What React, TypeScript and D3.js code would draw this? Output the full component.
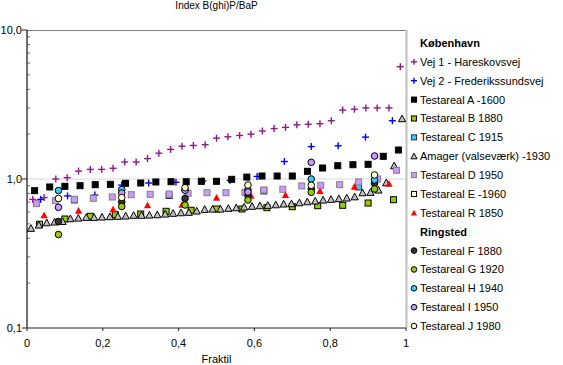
import React from "react";
import * as d3 from "d3";

// ---------- data ----------
const vej1X = [0.015, 0.045, 0.076, 0.106, 0.136, 0.167, 0.197, 0.227, 0.258, 0.288, 0.318, 0.348, 0.379, 0.409, 0.439, 0.470, 0.500, 0.530, 0.561, 0.591, 0.621, 0.652, 0.682, 0.712, 0.742, 0.773, 0.803, 0.833, 0.864, 0.894, 0.924, 0.955, 0.985];
const vej1Y = [0.73, 0.75, 1.0, 1.02, 1.13, 1.16, 1.16, 1.18, 1.3, 1.3, 1.37, 1.49, 1.58, 1.66, 1.68, 1.7, 1.88, 1.92, 1.96, 2.0, 2.1, 2.18, 2.22, 2.31, 2.33, 2.35, 2.46, 2.9, 2.94, 3.0, 3.0, 3.0, 5.67];

const vej2X = [0.036, 0.107, 0.179, 0.250, 0.321, 0.393, 0.464, 0.536, 0.607, 0.679, 0.750, 0.821, 0.893, 0.964];
const vej2Y = [0.73, 0.77, 0.78, 0.91, 0.94, 0.95, 0.97, 0.98, 1.04, 1.31, 1.65, 1.67, 1.91, 2.46];

const aX = [0.02, 0.06, 0.10, 0.14, 0.18, 0.22, 0.26, 0.30, 0.34, 0.38, 0.42, 0.46, 0.50, 0.54, 0.58, 0.62, 0.66, 0.70, 0.74, 0.78, 0.82, 0.86, 0.90, 0.94, 0.98];
const aY = [0.835, 0.884, 0.893, 0.902, 0.916, 0.921, 0.936, 0.94, 0.955, 0.959, 0.959, 0.965, 0.965, 0.995, 1.03, 1.047, 1.047, 1.047, 1.126, 1.185, 1.228, 1.247, 1.255, 1.42, 1.565];

const bX = [0.033, 0.100, 0.167, 0.233, 0.300, 0.367, 0.433, 0.500, 0.567, 0.633, 0.700, 0.767, 0.833, 0.900, 0.967];
const bY = [0.497, 0.539, 0.562, 0.576, 0.582, 0.607, 0.617, 0.629, 0.629, 0.642, 0.652, 0.662, 0.666, 0.69, 0.726];

const cX = [0.125, 0.375, 0.625, 0.875];
const cY = [0.723, 0.775, 0.831, 0.884];

const amagerX = [0.0104, 0.0313, 0.0521, 0.0729, 0.0938, 0.1146, 0.1354, 0.1563, 0.1771, 0.1979, 0.2188, 0.2396, 0.2604, 0.2813, 0.3021, 0.3229, 0.3438, 0.3646, 0.3854, 0.4063, 0.4271, 0.4479, 0.4688, 0.4896, 0.5104, 0.5313, 0.5521, 0.5729, 0.5938, 0.6146, 0.6354, 0.6563, 0.6771, 0.6979, 0.7188, 0.7396, 0.7604, 0.7813, 0.8021, 0.8229, 0.8438, 0.8646, 0.8854, 0.9063, 0.9271, 0.9479, 0.9688, 0.9896];
const amagerY = [0.467, 0.491, 0.509, 0.515, 0.519, 0.542, 0.547, 0.553, 0.553, 0.556, 0.559, 0.562, 0.565, 0.571, 0.571, 0.573, 0.576, 0.582, 0.589, 0.594, 0.598, 0.61, 0.626, 0.629, 0.629, 0.636, 0.642, 0.649, 0.656, 0.662, 0.666, 0.672, 0.68, 0.683, 0.693, 0.704, 0.712, 0.723, 0.731, 0.738, 0.746, 0.76, 0.809, 0.814, 0.844, 0.944, 1.228, 2.54];

const dX = [0.025, 0.075, 0.125, 0.175, 0.225, 0.275, 0.325, 0.375, 0.425, 0.475, 0.525, 0.575, 0.625, 0.675, 0.725, 0.775, 0.825, 0.875, 0.925, 0.975];
const dY = [0.683, 0.715, 0.731, 0.742, 0.757, 0.785, 0.789, 0.793, 0.802, 0.809, 0.809, 0.814, 0.844, 0.853, 0.898, 0.907, 0.916, 0.955, 1.0, 1.144];

const eX: number[] = [];
const eY: number[] = [];

const rX = [0.045, 0.136, 0.227, 0.318, 0.409, 0.500, 0.591, 0.682, 0.773, 0.864, 0.955];
const rY = [0.571, 0.613, 0.626, 0.666, 0.672, 0.749, 0.773, 0.781, 0.831, 0.888, 0.93];

const ringX = [0.083, 0.250, 0.417, 0.583, 0.750, 0.917];
const fY = [0.519, 0.701, 0.74, 0.775, 0.857, 0.936];
const gY = [0.424, 0.654, 0.669, 0.723, 0.814, 0.857];
const hY = [0.837, 0.85, 0.85, 0.844, 1.0, 0.985];
const iY = [0.646, 0.805, 0.84, 0.818, 1.294, 1.427];
const jY = [0.74, 0.751, 0.874, 0.911, 0.907, 1.064];

const xTicks = [0, 0.2, 0.4, 0.6, 0.8, 1];
const xTickLabels = ["0", "0,2", "0,4", "0,6", "0,8", "1"];
const yTicks = [0.1, 1, 10];
const yTickLabels = ["0,1", "1,0", "10,0"];

type Shape = "plus" | "square" | "triangle" | "circle";
interface Series { name: string; xs: number[]; ys: number[]; shape: Shape; fill: string; stroke: string; }

const series: Series[] = [
  { name: "Vej 1 - Hareskovsvej", xs: vej1X, ys: vej1Y, shape: "plus", fill: "none", stroke: "#8B1A8B" },
  { name: "Vej 2 - Frederikssundsvej", xs: vej2X, ys: vej2Y, shape: "plus", fill: "none", stroke: "#0000FF" },
  { name: "Testareal A -1600", xs: aX, ys: aY, shape: "square", fill: "#000000", stroke: "#000000" },
  { name: "Testareal B 1880", xs: bX, ys: bY, shape: "square", fill: "#99CC00", stroke: "#000000" },
  { name: "Testareal C 1915", xs: cX, ys: cY, shape: "square", fill: "#33CCFF", stroke: "#333333" },
  { name: "Amager (valseværk) -1930", xs: amagerX, ys: amagerY, shape: "triangle", fill: "#C0C0C0", stroke: "#000000" },
  { name: "Testareal D 1950", xs: dX, ys: dY, shape: "square", fill: "#CC99FF", stroke: "#808080" },
  { name: "Testareal E -1960", xs: eX, ys: eY, shape: "square", fill: "#FFFFCC", stroke: "#000000" },
  { name: "Testareal R 1850", xs: rX, ys: rY, shape: "triangle", fill: "#FF0000", stroke: "none" },
  { name: "Testareal F 1880", xs: ringX, ys: fY, shape: "circle", fill: "#333333", stroke: "#000000" },
  { name: "Testareal G 1920", xs: ringX, ys: gY, shape: "circle", fill: "#99CC00", stroke: "#000000" },
  { name: "Testareal H 1940", xs: ringX, ys: hY, shape: "circle", fill: "#33CCFF", stroke: "#000000" },
  { name: "Testareal I 1950", xs: ringX, ys: iY, shape: "circle", fill: "#CC99FF", stroke: "#000000" },
  { name: "Testareal J 1980", xs: ringX, ys: jY, shape: "circle", fill: "#FFFFCC", stroke: "#000000" },
];

const FONT = "'Liberation Sans', Arial, sans-serif";

function Marker({ shape, cx, cy, fill, stroke, s = 1 }: { shape: Shape; cx: number; cy: number; fill: string; stroke: string; s?: number }) {
  if (shape === "plus") {
    const h = 3.5 * s;
    return (
      <g stroke={stroke} strokeWidth={1.4}>
        <line x1={cx - h} x2={cx + h} y1={cy} y2={cy} />
        <line x1={cx} x2={cx} y1={cy - h} y2={cy + h} />
      </g>
    );
  }
  if (shape === "square") {
    const h = 3 * s;
    return <rect x={cx - h} y={cy - h} width={2 * h} height={2 * h} fill={fill} stroke={stroke} strokeWidth={1} />;
  }
  if (shape === "triangle") {
    const h = 3.6 * s;
    const p = `${cx},${cy - h} ${cx + h},${cy + h * 0.85} ${cx - h},${cy + h * 0.85}`;
    return <polygon points={p} fill={fill} stroke={stroke} strokeWidth={stroke === "none" ? 0 : 1} />;
  }
  return <circle cx={cx} cy={cy} r={3.3 * s} fill={fill} stroke={stroke} strokeWidth={1} />;
}

export default function App() {
  const W = 563, H = 365;
  const L = 27, R = 406, T = 30, B = 328;
  const x = d3.scaleLinear().domain([0, 1]).range([L, R]);
  const y = d3.scaleLog().domain([0.1, 10]).range([B, T]);
  const minor: number[] = [];
  for (const dec of [0.1, 1]) for (let k = 2; k <= 9; k++) minor.push(dec * k);

  const legendRows: { kind: "head" | "item"; label: string; s?: Series }[] = [
    { kind: "head", label: "København" },
    ...series.slice(0, 9).map((s) => ({ kind: "item" as const, label: s.name, s })),
    { kind: "head", label: "Ringsted" },
    ...series.slice(9).map((s) => ({ kind: "item" as const, label: s.name, s })),
  ];
  const legY0 = 43, legStep = 18.87;

  return (
    <div style={{ position: "absolute", left: 0, top: 0 }}>
      <svg width={W} height={H} style={{ display: "block", background: "#fff" }} fontFamily={FONT}>
        <text x={(L + R) / 2} y={9} fontSize={10} textAnchor="middle" fill="#000">Index B(ghi)P/BaP</text>
        {/* grid & border */}
        <line x1={L} x2={R} y1={y(1)} y2={y(1)} stroke="#D9D9D9" strokeWidth={1} />
        <line x1={L} x2={R} y1={T + 0.5} y2={T + 0.5} stroke="#808080" strokeWidth={1} />
        <line x1={R + 0.5} x2={R + 0.5} y1={T} y2={B} stroke="#BFBFBF" strokeWidth={2} />
        {/* axes */}
        <line x1={L} x2={L} y1={T} y2={B} stroke="#222" strokeWidth={1.3} />
        <line x1={L} x2={R} y1={B} y2={B} stroke="#222" strokeWidth={1} />
        {yTicks.map((t, i) => (
          <g key={"yt" + i}>
            <line x1={L - 5} x2={L} y1={y(t)} y2={y(t)} stroke="#222" />
            <text x={L - 5} y={y(t) + 4} fontSize={11} textAnchor="end" fill="#000">{yTickLabels[i]}</text>
          </g>
        ))}
        {minor.map((t, i) => (
          <line key={"mn" + i} x1={L} x2={L + 3} y1={y(t)} y2={y(t)} stroke="#444" strokeWidth={0.8} />
        ))}
        {xTicks.map((t, i) => (
          <g key={"xt" + i}>
            <line x1={x(t)} x2={x(t)} y1={B} y2={B + 3} stroke="#222" />
            <text x={x(t)} y={B + 19} fontSize={11} textAnchor="middle" fill="#000">{xTickLabels[i]}</text>
          </g>
        ))}
        <text x={(L + R) / 2} y={B + 35} fontSize={11} textAnchor="middle" fill="#000">Fraktil</text>
        {/* points */}
        {series.map((s, si) => (
          <g key={"s" + si}>
            {s.xs.map((xv, k) => (
              <Marker key={k} shape={s.shape} cx={x(xv)} cy={y(s.ys[k])} fill={s.fill} stroke={s.stroke} />
            ))}
          </g>
        ))}
        {/* legend */}
        {legendRows.map((r, i) => {
          const cy = legY0 + i * legStep;
          if (r.kind === "head")
            return <text key={"lg" + i} x={420} y={cy + 4} fontSize={11} fontWeight="bold" fill="#000">{r.label}</text>;
          const s = r.s!;
          return (
            <g key={"lg" + i}>
              <Marker shape={s.shape} cx={414} cy={cy} fill={s.fill} stroke={s.stroke} s={0.85} />
              <text x={420} y={cy + 4} fontSize={11} fill="#000">{r.label}</text>
            </g>
          );
        })}
      </svg>
    </div>
  );
}
